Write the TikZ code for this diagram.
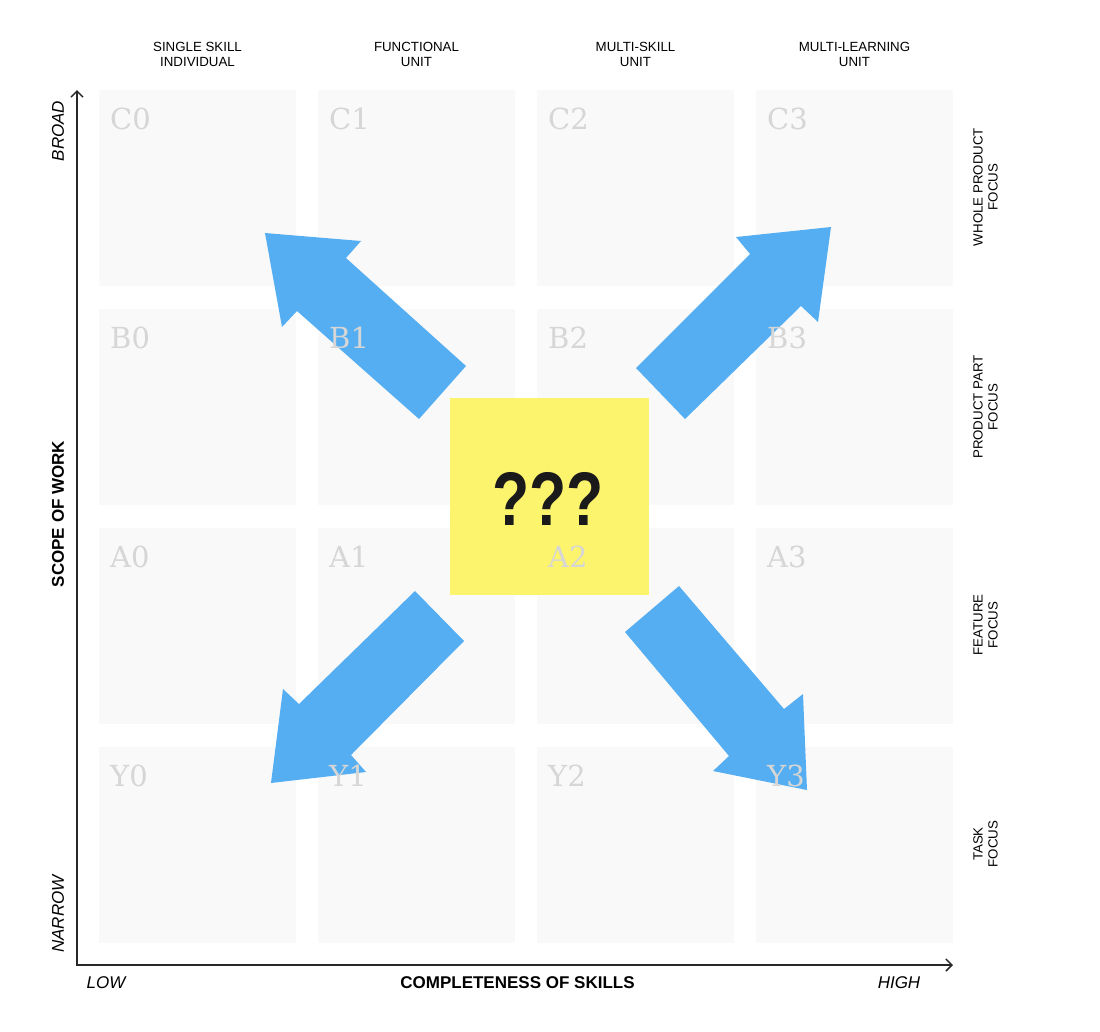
\documentclass[tikz,border=0pt]{standalone}
\usepackage{fontspec}
\setmainfont{Liberation Sans}
\newfontfamily\cellfont{DejaVu Serif}
\usetikzlibrary{arrows.meta}
\definecolor{cellbg}{RGB}{249,249,249}
\definecolor{cellgray}{RGB}{214,214,214}
\definecolor{arrowblue}{RGB}{85,174,241}
\definecolor{noteyellow}{RGB}{253,244,109}
\definecolor{axisgray}{RGB}{40,40,40}
\definecolor{qdark}{RGB}{26,26,26}
\tikzset{
  cellbox/.style={fill=cellbg, draw=none, minimum width=197pt, minimum height=196pt, anchor=north west, inner sep=0pt},
  celllbl/.style={anchor=base west, inner sep=0pt, text=cellgray, font=\cellfont\fontsize{29}{29}\selectfont, xshift=11pt, yshift=-39pt},
  hdr/.style={align=center, inner sep=0pt, font=\fontsize{13.3}{15}\selectfont},
  rowlbl/.style={align=center, inner sep=0pt, rotate=90, font=\fontsize{13.3}{15}\selectfont},
  axislbl/.style={inner sep=0pt, font=\itshape\fontsize{17}{17}\selectfont},
  axistitle/.style={inner sep=0pt, font=\bfseries\fontsize{17}{17}\selectfont},
  bigarrow/.style={fill=arrowblue},
  axisline/.style={draw=axisgray, line width=1.8pt, {Straight Barb[length=6pt,width=12pt,line width=1.5pt]}-{Straight Barb[length=6pt,width=12pt,line width=1.5pt]}},
}
\begin{document}
\begin{tikzpicture}[x=1pt,y=-1pt]
\useasboundingbox (0,0) rectangle (1100,1031);
% cells
\node[cellbox] (C0) at (99,90) {};
\node[cellbox] (C1) at (318,90) {};
\node[cellbox] (C2) at (537,90) {};
\node[cellbox] (C3) at (756,90) {};
\node[cellbox] (B0) at (99,309) {};
\node[cellbox] (B1) at (318,309) {};
\node[cellbox] (B2) at (537,309) {};
\node[cellbox] (B3) at (756,309) {};
\node[cellbox] (A0) at (99,528) {};
\node[cellbox] (A1) at (318,528) {};
\node[cellbox] (A2) at (537,528) {};
\node[cellbox] (A3) at (756,528) {};
\node[cellbox] (Y0) at (99,747) {};
\node[cellbox] (Y1) at (318,747) {};
\node[cellbox] (Y2) at (537,747) {};
\node[cellbox] (Y3) at (756,747) {};
% arrows
\fill[bigarrow] (466,366) -- (419,419) -- (297,311) -- (282,327) -- (265,233) -- (361,241) -- (346,258) -- cycle;
\fill[bigarrow] (636,368) -- (750,254) -- (736,237) -- (831,227) -- (818,322) -- (801,306) -- (685,419) -- cycle;
\fill[bigarrow] (415,591) -- (464,641) -- (351,755) -- (366,772) -- (271,783) -- (283,689) -- (299,704) -- cycle;
\fill[bigarrow] (679,586) -- (784,709) -- (803,694) -- (807,790) -- (713,771) -- (729,756) -- (625,632) -- cycle;
% note
\node[fill=noteyellow, minimum width=199pt, minimum height=197pt, anchor=north west, inner sep=0pt] (note) at (450,398) {};
% cell labels
\foreach \c in {C0,C1,C2,C3,B0,B1,B2,B3,A0,A1,A2,A3,Y0,Y1,Y2,Y3}
  \node[celllbl] (lbl\c) at (\c.north west) {\c};
\node[inner sep=0pt, text=qdark] (qq) at (548,498.5) {\scalebox{0.8}[1]{\bfseries\fontsize{76}{76}\selectfont ???}};
% headers
\node[hdr] (h0) at (197.5,54.5) {SINGLE SKILL\\INDIVIDUAL};
\node[hdr] (h1) at (416.5,54.5) {FUNCTIONAL\\UNIT};
\node[hdr] (h2) at (635.5,54.5) {MULTI-SKILL\\UNIT};
\node[hdr] (h3) at (854.5,54.5) {MULTI-LEARNING\\UNIT};
% row labels
\node[rowlbl] (r3) at (985.5,187) {WHOLE PRODUCT\\FOCUS};
\node[rowlbl] (r2) at (985.5,407) {PRODUCT PART\\FOCUS};
\node[rowlbl] (r1) at (985.5,625) {FEATURE\\FOCUS};
\node[rowlbl] (r0) at (985.5,844) {TASK\\FOCUS};
% axes
\coordinate (ytop) at (77,90);
\coordinate (origin) at (77,965);
\coordinate (xend) at (953,965);
\draw[axisline] (ytop) -- (origin) -- (xend);
\node[axislbl, rotate=90] (broad) at (58,131) {BROAD};
\node[axislbl, rotate=90] (narrow) at (58,914) {NARROW};
\node[axistitle, rotate=90] (scope) at (58,514) {SCOPE OF WORK};
\node[axislbl] (low) at (106,983) {LOW};
\node[axislbl] (high) at (899,983) {HIGH};
\node[axistitle] (compl) at (517.5,983) {COMPLETENESS OF SKILLS};
\end{tikzpicture}
\end{document}
